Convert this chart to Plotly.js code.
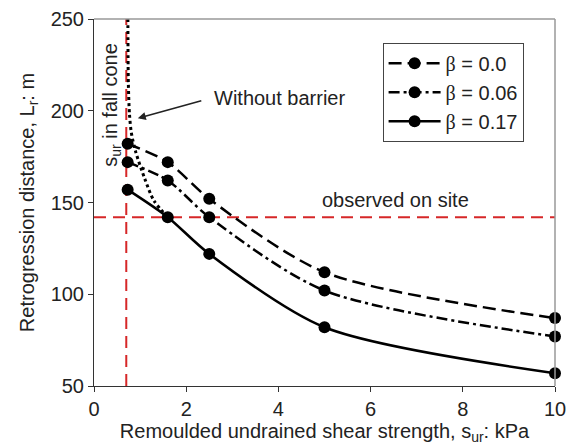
<!DOCTYPE html>
<html>
<head>
<meta charset="utf-8">
<script src="https://cdn.plot.ly/plotly-3.0.1.min.js"></script>
<style>html,body{margin:0;padding:0;background:#fff}#chart{width:568px;height:448px}</style>
</head>
<body>
<div id="chart"></div>
<script>
// Data
var sur = [0.73, 1.6, 2.5, 5, 10];
var beta00 = [182, 172, 152, 112, 87];
var beta006 = [172, 162, 142, 102, 77];
var beta017 = [157, 142, 122, 82, 57];
var noBarrierX = [0.735, 0.745, 0.77, 0.81, 0.9, 1.1, 1.3, 1.6];
var noBarrierY = [250, 215, 198, 188, 178, 163, 151, 142];
var observedY = 142;
var fallConeX = 0.7;
var xRange = [0, 10];
var yRange = [50, 250];
var xTicks = [0, 2, 4, 6, 8, 10];
var yTicks = [50, 100, 150, 200, 250];
var seriesNames = ['β = 0.0', 'β = 0.06', 'β = 0.17'];

var FONT = 'Arial, "Liberation Sans", sans-serif';
var FS = 20;
var RED = 'rgb(214,39,40)';
function bname(s) {
  return '<span style="font-family:\'Liberation Serif\',\'Times New Roman\',serif">β</span>' + s.slice(1);
}

var traces = [
  {x: [fallConeX, fallConeX], y: yRange, mode: 'lines', showlegend: false, hoverinfo: 'skip',
   line: {color: RED, width: 2, dash: '12px,7px'}},
  {x: xRange, y: [observedY, observedY], mode: 'lines', showlegend: false, hoverinfo: 'skip',
   line: {color: RED, width: 2, dash: '12px,7px'}},
  {x: noBarrierX, y: noBarrierY, mode: 'lines', showlegend: false, cliponaxis: false,
   line: {color: '#000', width: 3, dash: 'dot', shape: 'spline', smoothing: 0.8}},
  {x: sur, y: beta00, name: bname(seriesNames[0]), mode: 'lines+markers', cliponaxis: false,
   line: {color: '#000', width: 2.5, dash: '13px,6px', shape: 'spline', smoothing: 0.8},
   marker: {color: '#000', size: 12}},
  {x: sur, y: beta006, name: bname(seriesNames[1]), mode: 'lines+markers', cliponaxis: false,
   line: {color: '#000', width: 2.5, dash: '11px,4px,3px,4px', shape: 'spline', smoothing: 0.8},
   marker: {color: '#000', size: 12}},
  {x: sur, y: beta017, name: bname(seriesNames[2]), mode: 'lines+markers', cliponaxis: false,
   line: {color: '#000', width: 2.5, shape: 'spline', smoothing: 0.8},
   marker: {color: '#000', size: 12}}
];

var layout = {
  width: 568, height: 448,
  margin: {l: 94, r: 13, t: 19, b: 62},
  paper_bgcolor: '#fff', plot_bgcolor: '#fff',
  font: {family: FONT, size: FS, color: '#222'},
  showlegend: true,
  legend: {x: 0.626, y: 0.935, xanchor: 'left', yanchor: 'top', bgcolor: '#fff',
    bordercolor: '#444', borderwidth: 1, font: {family: FONT, size: FS, color: '#222'},
    tracegroupgap: 0, itemwidth: 52},
  xaxis: {range: xRange, tickvals: xTicks, ticktext: xTicks.map(String), showgrid: false, zeroline: false,
    showline: true, linecolor: '#333', linewidth: 1, ticks: 'outside', ticklen: 5, tickcolor: '#333',
    tickfont: {size: FS},
    title: {text: 'Remoulded undrained shear strength, s<sub>ur</sub>: kPa', font: {size: FS}, standoff: 2}},
  yaxis: {range: yRange, tickvals: yTicks, ticktext: yTicks.map(String), showgrid: false, zeroline: false,
    showline: true, linecolor: '#333', linewidth: 1, ticks: 'outside', ticklen: 5, tickcolor: '#333',
    tickfont: {size: FS},
    title: {text: 'Retrogression distance, L<sub>r</sub>: m', font: {size: FS}, standoff: 10}},
  shapes: [
    {type: 'line', xref: 'paper', yref: 'paper', x0: 0, x1: 1, y0: 1, y1: 1, line: {color: '#999', width: 1.5}},
    {type: 'line', xref: 'paper', yref: 'paper', x0: 1, x1: 1, y0: 0, y1: 1, line: {color: '#999', width: 1.5}}
  ],
  annotations: [
    {x: 0.38, y: 203, xref: 'x', yref: 'y', text: 's<sub>ur</sub> in fall cone', textangle: -90,
     showarrow: false, font: {size: FS, color: '#222'}},
    {x: 6.53, y: 151.4, xref: 'x', yref: 'y', text: 'observed on site', showarrow: false,
     font: {size: FS, color: '#222'}},
    {x: 2.55, y: 207, xref: 'x', yref: 'y', text: 'Without barrier', xanchor: 'left', showarrow: false,
     font: {size: FS, color: '#222'}},
    {x: 0.95, y: 195.9, xref: 'x', yref: 'y', text: '', showarrow: true, ax: 65, ay: -18,
     arrowhead: 2, arrowsize: 1, arrowwidth: 1.6, arrowcolor: '#222'}
  ]
};

Plotly.newPlot('chart', traces, layout, {displayModeBar: false, staticPlot: true});
</script>
</body>
</html>
